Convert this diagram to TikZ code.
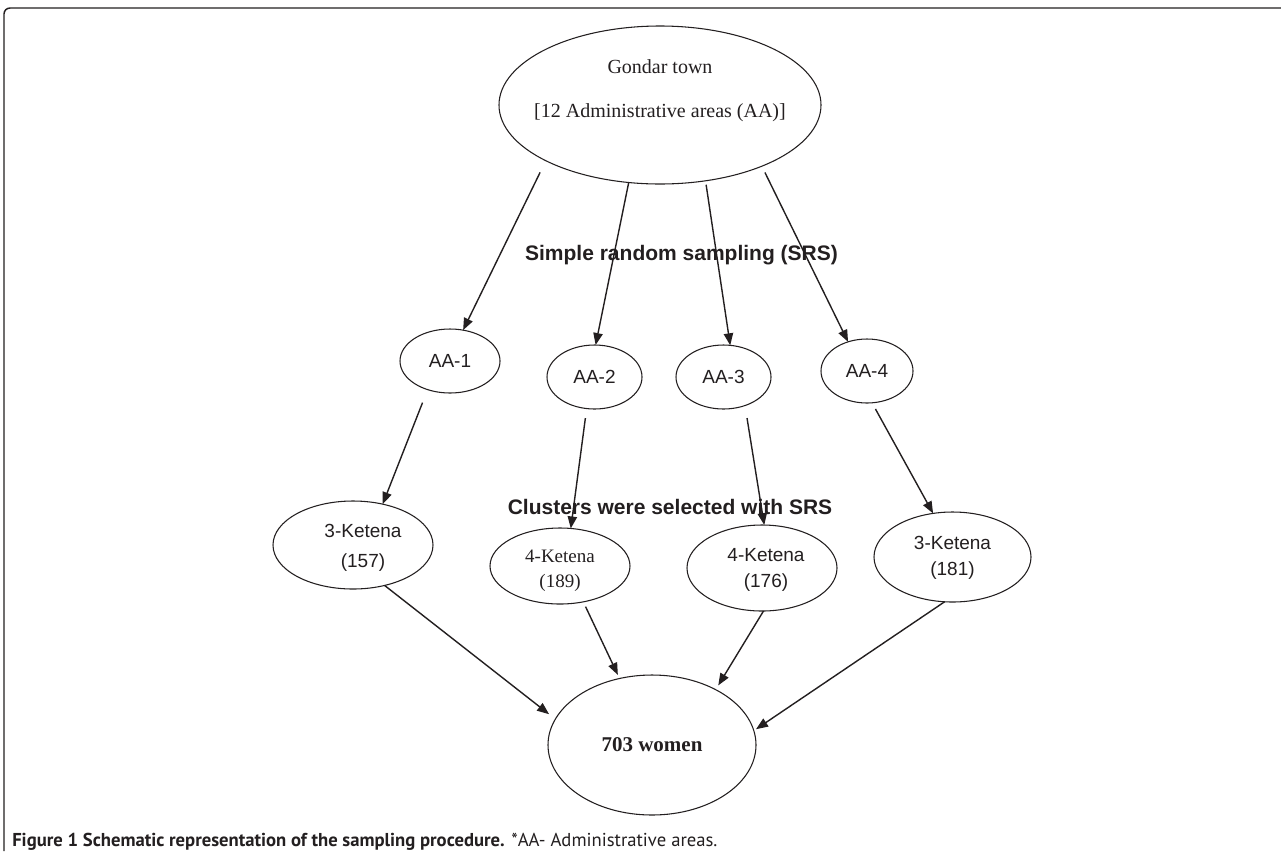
\documentclass[tikz,border=0pt]{standalone}
\usepackage{fontspec}
\setmainfont{Liberation Serif}
\setsansfont{Liberation Sans}
\newfontfamily\capfont{PT Sans}
\usetikzlibrary{shapes.geometric,arrows.meta}
\definecolor{ink}{HTML}{231F20}
\begin{document}
\begin{tikzpicture}[x=0.75pt,y=-0.75pt,
  ell/.style={draw=ink, ellipse, inner sep=0pt, outer sep=0pt, line width=0.8pt},
  arr/.style={draw=ink, line width=1.05pt, -{Triangle[length=9pt,width=7pt]}},
  sfont/.style={font=\sffamily\fontsize{14.25pt}{19.5pt}\selectfont, text=ink, inner sep=0pt},
  rfont/.style={font=\rmfamily\fontsize{14.25pt}{18.75pt}\selectfont, text=ink, inner sep=0pt},
  gfont/.style={font=\rmfamily\fontsize{15pt}{18pt}\selectfont, text=ink, inner sep=0pt},
  hfont/.style={font=\sffamily\bfseries\fontsize{15.75pt}{18pt}\selectfont, text=ink, inner sep=0pt},
]
\useasboundingbox (0,0) rectangle (1281,851);
\fill[white] (0,0) rectangle (1281,851);
% frame
\draw[ink, line width=1.1pt, rounded corners=4.5pt] (4,851) -- (4,8) -- (1281,8);

% top ellipse
\node[ell, minimum width=241.5pt, minimum height=118.5pt,
  label={[gfont, yshift=28.5pt]center:Gondar town},
  label={[gfont, yshift=-6pt]center:[12 Administrative areas (AA)]}] (g) at (660,105) {};

% headings
\node[hfont] (h1) at (681.5,255) {Simple random sampling (SRS)};
\node[hfont] (h2) at (670,507) {Clusters were selected with SRS};

% administrative areas
\node[ell, minimum width=75pt, minimum height=48pt, sfont] (aa1) at (450,361) {AA-1};
\node[ell, minimum width=71.25pt, minimum height=48pt, sfont] (aa2) at (594.5,377) {AA-2};
\node[ell, minimum width=71.25pt, minimum height=48pt, sfont] (aa3) at (723.5,377) {AA-3};
\node[ell, minimum width=69pt, minimum height=48pt, sfont] (aa4) at (867,371) {AA-4};

% ketena
\node[ell, minimum width=120pt, minimum height=66pt,
  label={[sfont, align=center, xshift=7.5pt, yshift=-2.25pt]center:{3-Ketena\\[3pt](157)}}] (k1) at (353,545) {};
\node[ell, minimum width=105pt, minimum height=57pt,
  label={[rfont, align=center, yshift=-3.4pt]center:{4-Ketena\\(189)}}] (k2) at (560,566) {};
\node[ell, minimum width=112.5pt, minimum height=64.5pt,
  label={[sfont, align=center, xshift=3pt, yshift=-1.5pt]center:{4-Ketena\\(176)}}] (k3) at (762,568) {};
\node[ell, minimum width=117.75pt, minimum height=67.5pt,
  label={[sfont, align=center, yshift=-0.75pt]center:{3-Ketena\\(181)}}] (k4) at (952.5,557) {};

% total
\node[ell, minimum width=156pt, minimum height=105pt,
  font=\rmfamily\bfseries\fontsize{15.75pt}{18pt}\selectfont, text=ink] (w) at (652,745) {703 women};

% connectors: town -> AA
\draw[arr, shorten <=9.75pt] (g.206.8) -- (aa1.67.1);
\draw[arr] (g.248.3) -- (aa2.88);
\draw[arr, shorten <=3pt] (g.301.2) -- (aa3.78.3);
\draw[arr, shorten <=5.25pt] (g.329.8) -- (aa4.123.9);

% AA -> ketena
\draw[arr, shorten <=10.5pt] (aa1.232.9) -- (k1.54.2);
\draw[arr, shorten <=7.2pt] (aa2.256.3) -- (k2.74.6);
\draw[arr, shorten <=9.5pt] (aa3.307) -- (k3.87.3);
\draw[arr, shorten <=5.3pt] (aa4.279.8) -- (k4.114.5);

% ketena -> women
\draw[arr, shorten >=6pt] (k1.308.7) -- (w.165.8);
\draw[arr, shorten <=4pt, shorten >=3pt] (k2.303.4) -- (w.116.6);
\draw[arr, shorten >=3.75pt] (k3.272.3) -- (w.41.3);
\draw[arr, shorten >=2pt] (k4.260) -- (w.8.1);

% caption
\node[anchor=base west, font=\capfont\fontsize{14pt}{16pt}\selectfont, text=ink, inner sep=0pt] (cap) at (12,846)
  {\textbf{Figure 1 Schematic representation of the sampling procedure.} *AA- Administrative areas.};
\end{tikzpicture}
\end{document}
